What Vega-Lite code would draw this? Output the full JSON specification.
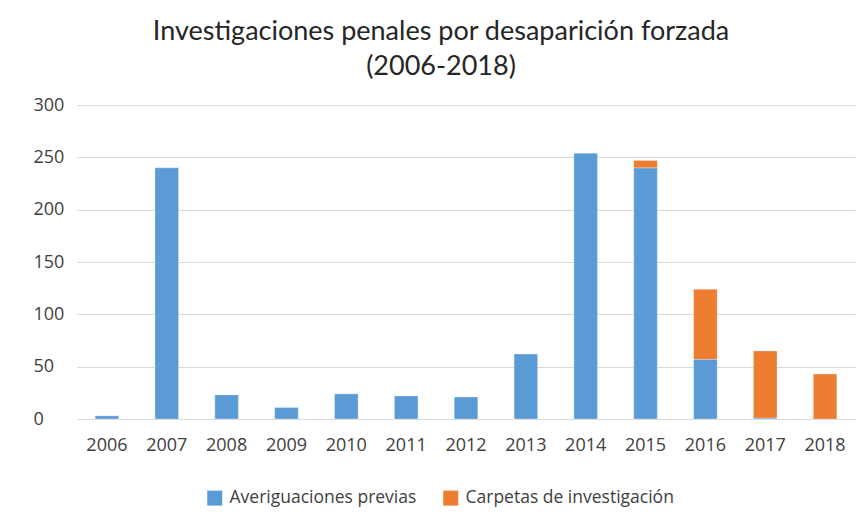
{
  "$schema": "https://vega.github.io/schema/vega-lite/v6.json",
  "width": 778,
  "height": 314,
  "autosize": {"type": "none"},
  "padding": {"left": 77, "top": 105, "right": 12, "bottom": 107},
  "background": "white",
  "title": {
    "text": ["Investigaciones penales por desaparición forzada", "(2006-2018)"],
    "font": "Lato",
    "fontSize": 27,
    "fontWeight": "normal",
    "color": "#262626",
    "lineHeight": 35,
    "anchor": "middle",
    "dx": -25,
    "offset": 15
  },
  "data": {
    "values": [
      {"year": "2006", "serie": "Averiguaciones previas", "value": 3},
      {"year": "2007", "serie": "Averiguaciones previas", "value": 240},
      {"year": "2008", "serie": "Averiguaciones previas", "value": 23},
      {"year": "2009", "serie": "Averiguaciones previas", "value": 11},
      {"year": "2010", "serie": "Averiguaciones previas", "value": 24},
      {"year": "2011", "serie": "Averiguaciones previas", "value": 22},
      {"year": "2012", "serie": "Averiguaciones previas", "value": 21},
      {"year": "2013", "serie": "Averiguaciones previas", "value": 62},
      {"year": "2014", "serie": "Averiguaciones previas", "value": 254},
      {"year": "2015", "serie": "Averiguaciones previas", "value": 240},
      {"year": "2015", "serie": "Carpetas de investigación", "value": 7},
      {"year": "2016", "serie": "Averiguaciones previas", "value": 57},
      {"year": "2016", "serie": "Carpetas de investigación", "value": 67},
      {"year": "2017", "serie": "Averiguaciones previas", "value": 1},
      {"year": "2017", "serie": "Carpetas de investigación", "value": 64},
      {"year": "2018", "serie": "Carpetas de investigación", "value": 43}
    ]
  },
  "mark": {"type": "bar", "stroke": "white", "strokeWidth": 0.5, "strokeOpacity": 0.6},
  "encoding": {
    "x": {
      "field": "year",
      "type": "nominal",
      "title": null,
      "scale": {"paddingInner": 0.606, "paddingOuter": 0.303},
      "axis": {
        "labelAngle": 0,
        "labelFont": "Open Sans",
        "labelFontSize": 18,
        "labelColor": "#404040",
        "labelPadding": 17,
        "ticks": false,
        "tickSize": 0,
        "domain": true,
        "domainColor": "#d9d9d9",
        "grid": false
      }
    },
    "y": {
      "field": "value",
      "type": "quantitative",
      "aggregate": "sum",
      "stack": "zero",
      "title": null,
      "scale": {"domain": [0, 300]},
      "axis": {
        "values": [0, 50, 100, 150, 200, 250, 300],
        "labelFont": "Open Sans",
        "labelFontSize": 18,
        "labelColor": "#404040",
        "labelAlign": "left",
        "labelPadding": 44,
        "ticks": false,
        "tickSize": 0,
        "domain": false,
        "grid": true,
        "gridColor": "#d9d9d9",
        "gridWidth": 1
      }
    },
    "color": {
      "field": "serie",
      "type": "nominal",
      "scale": {
        "domain": ["Averiguaciones previas", "Carpetas de investigación"],
        "range": ["#5b9bd5", "#ed7d31"]
      },
      "legend": {
        "title": null,
        "orient": "none",
        "direction": "horizontal",
        "legendX": 129,
        "legendY": 384,
        "symbolType": "square",
        "symbolSize": 225,
        "symbolStrokeWidth": 0,
        "labelFont": "Open Sans",
        "labelFontSize": 17.5,
        "labelColor": "#404040",
        "labelOffset": 6,
        "columnPadding": 25,
        "labelLimit": 400
      }
    },
    "order": {"field": "serie", "sort": "ascending"}
  },
  "config": {"view": {"stroke": null}}
}
